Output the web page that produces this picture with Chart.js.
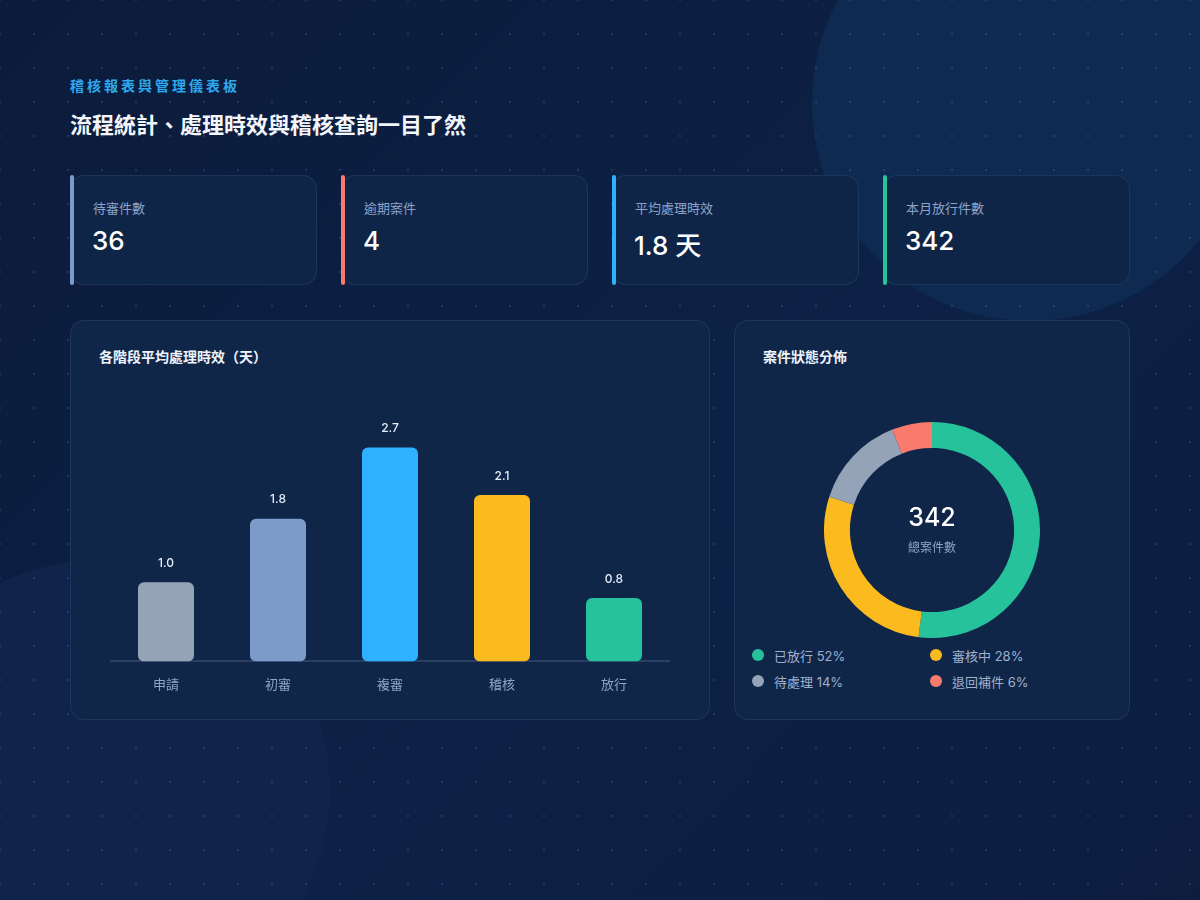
<!DOCTYPE html>
<html lang="zh-Hant">
<head>
<meta charset="utf-8">
<title>稽核報表與管理儀表板</title>
<script src="https://cdn.jsdelivr.net/npm/chart.js@4.4.1/dist/chart.umd.min.js"></script>
<style>
  * { box-sizing: border-box; margin: 0; padding: 0; }
  body {
    width: 1200px; height: 900px; overflow: hidden; position: relative;
    background: linear-gradient(135deg, #0b1b3b 0%, #0d2146 55%, #0c1d40 100%);
    font-family: Inter, "Noto Sans CJK TC", "Noto Sans", sans-serif;
    color: #fff;
  }
  .blob { position: absolute; border-radius: 50%; }
  .blob.tr { left: 812px; top: -115px; width: 436px; height: 436px; background: #0e2a50; }
  .blob.bl { left: -130px; top: 560px; width: 460px; height: 460px; background: #10234b; }
  .dots {
    position: absolute; inset: 0;
    background-image: radial-gradient(circle, rgba(150,175,220,0.16) 1px, transparent 1.6px);
    background-size: 34px 34px; background-position: -17px -17px;
  }
  .eyebrow { position: absolute; left: 70px; top: 75px; font-size: 14px; font-weight: 600; color: #2ea8ee; letter-spacing: 3px; }
  .title { position: absolute; left: 70px; top: 107px; font-size: 22px; font-weight: 700; color: #f3f6fb; }
  .kpi {
    position: absolute; top: 175px; width: 247px; height: 110px;
    background: #0f2548; border: 1px solid rgba(140,170,220,0.12); border-radius: 14px;
  }
  .kpi .bar { position: absolute; left: -1px; top: -1px; width: 4px; height: 110px; border-radius: 2px; }
  .kpi .lab { position: absolute; left: 22px; top: 22px; font-size: 13px; color: #8ea3c7; }
  .kpi .val { position: absolute; left: 21px; top: 49px; font-size: 26px; font-weight: 500; color: #fff; }
  .card {
    position: absolute; top: 320px; height: 400px;
    background: #0f2649; border: 1px solid rgba(140,170,220,0.12); border-radius: 14px;
  }
  .card h3 { position: absolute; top: 25px; font-size: 14px; font-weight: 700; color: #eef3fb; }
  #barWrap { position: absolute; left: 110px; top: 400px; width: 560px; height: 309px; }
  #pieWrap { position: absolute; left: 824px; top: 422px; width: 216px; height: 216px; }
  .center { position: absolute; left: 832px; width: 200px; text-align: center; }
  .center.num { top: 502px; font-size: 25px; font-weight: 500; color: #fff; }
  .center.sub { top: 538px; font-size: 12px; color: #8ea3c7; }
  .leg { position: absolute; font-size: 13px; color: #9fb0cf; }
  .leg i { position: absolute; left: -22px; top: 3px; width: 12px; height: 12px; border-radius: 50%; }
</style>
</head>
<body>
<div class="blob tr"></div>
<div class="blob bl"></div>
<div class="dots"></div>

<div class="eyebrow">稽核報表與管理儀表板</div>
<div class="title">流程統計、處理時效與稽核查詢一目了然</div>

<div id="kpis"></div>

<div class="card" style="left:70px;width:640px;"><h3 style="left:28px;">各階段平均處理時效（天）</h3></div>
<div class="card" style="left:734px;width:396px;"><h3 style="left:28px;">案件狀態分佈</h3></div>

<div id="barWrap"><canvas id="barChart"></canvas></div>
<div id="pieWrap"><canvas id="pieChart"></canvas></div>
<div class="center num">342</div>
<div class="center sub">總案件數</div>
<div id="legend"></div>

<script>
// KPI 卡片
var kpiLabels = ['待審件數', '逾期案件', '平均處理時效', '本月放行件數']
var kpiValues = ['36', '4', '1.8 天', '342']
var kpiColors = ['#7b9cc8', '#f87b6e', '#2eb2ff', '#26c29b']

// 各階段平均處理時效
var stageLabels = ['申請', '初審', '複審', '稽核', '放行']
var stageDays = [1.0, 1.8, 2.7, 2.1, 0.8]
var stageColors = ['#94a3b8', '#7b9cc8', '#2eb2ff', '#fbbb1f', '#26c29b']

// 案件狀態分佈
var statusLabels = ['已放行', '審核中', '待處理', '退回補件']
var statusPct = [52, 28, 14, 6]
var statusColors = ['#26c29b', '#fbbb1f', '#94a3b8', '#f87b6e']

var kpiBox = document.getElementById('kpis')
for (var i = 0; i < kpiLabels.length; i++) {
    var d = document.createElement('div')
    d.className = 'kpi'
    d.style.left = (70 + i * 271) + 'px'
    d.innerHTML = '<div class="bar" style="background:' + kpiColors[i] + '"></div>' +
        '<div class="lab">' + kpiLabels[i] + '</div><div class="val">' + kpiValues[i] + '</div>'
    kpiBox.appendChild(d)
}

var legBox = document.getElementById('legend')
for (var j = 0; j < statusLabels.length; j++) {
    var l = document.createElement('div')
    l.className = 'leg'
    l.style.left = (774 + (j % 2) * 178) + 'px'
    l.style.top = (646 + Math.floor(j / 2) * 26) + 'px'
    l.innerHTML = '<i style="background:' + statusColors[j] + '"></i>' + statusLabels[j] + ' ' + statusPct[j] + '%'
    legBox.appendChild(l)
}

Chart.defaults.font.family = 'Inter, "Noto Sans CJK TC", sans-serif'

// 長條上方數值
var valueLabels = {
    id: 'valueLabels',
    afterDatasetsDraw: function (chart) {
        var ctx = chart.ctx
        var meta = chart.getDatasetMeta(0)
        ctx.save()
        ctx.fillStyle = '#e6edf7'
        ctx.font = '500 12px Inter, sans-serif'
        ctx.textAlign = 'center'
        ctx.textBaseline = 'middle'
        meta.data.forEach(function (bar, k) {
            ctx.fillText(stageDays[k].toFixed(1), bar.x, bar.y - 19)
        })
        ctx.restore()
    }
}

new Chart('barChart', {
    type: 'bar',
    data: {
        labels: stageLabels,
        datasets: [{
            data: stageDays,
            backgroundColor: stageColors,
            borderRadius: 6,
            borderSkipped: false,
            barPercentage: 0.5,
            categoryPercentage: 1.0
        }]
    },
    options: {
        responsive: true,
        maintainAspectRatio: false,
        animation: false,
        layout: { padding: 0 },
        plugins: { legend: { display: false }, tooltip: { enabled: false } },
        scales: {
            x: {
                grid: { display: false, drawTicks: false },
                border: { color: '#2b3f63', width: 2 },
                ticks: { color: '#8ea3c7', font: { size: 13 }, padding: 16 }
            },
            y: { display: false, min: 0, max: 3.3 }
        }
    },
    plugins: [valueLabels]
})

new Chart('pieChart', {
    type: 'doughnut',
    data: {
        labels: statusLabels,
        datasets: [{
            data: statusPct,
            backgroundColor: statusColors,
            borderWidth: 0
        }]
    },
    options: {
        responsive: true,
        maintainAspectRatio: false,
        animation: false,
        cutout: '76%',
        plugins: { legend: { display: false }, tooltip: { enabled: false } }
    }
})
</script>
</body>
</html>
